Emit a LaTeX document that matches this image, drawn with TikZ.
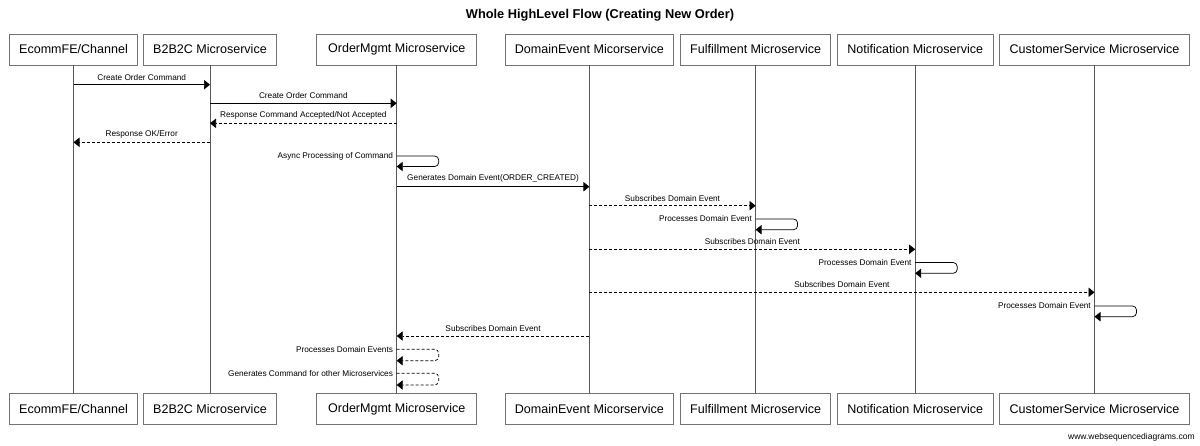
\documentclass[tikz,border=0pt]{standalone}
\usepackage{fontspec}
\setmainfont{Liberation Sans}
\usetikzlibrary{arrows.meta,calc}

\tikzset{
  actor/.style={draw=black!55, line width=0.6pt, minimum height=23.25pt, inner sep=0pt, font=\fontsize{9.4}{11}\selectfont},
  lifeline/.style={draw=black!65, line width=0.6pt},
  msg/.style={-{Triangle[length=4.5pt,width=7pt]}, line width=0.55pt},
  reply/.style={msg, dash pattern=on 2.25pt off 1.5pt},
  lbl/.style={font=\fontsize{6.2}{7}\selectfont, inner sep=0pt, above=3pt},
  selflbl/.style={font=\fontsize{6.2}{7}\selectfont, inner sep=0pt, anchor=east, xshift=-2.5pt},
  loopback/.style={rounded corners=3pt}
}

\begin{document}
\begin{tikzpicture}[x=0.75pt,y=-0.75pt]
\useasboundingbox (0,0) rectangle (1200,446);
\node[font=\bfseries\fontsize{9.6}{11}\selectfont] (title) at (600,15) {Whole HighLevel Flow (Creating New Order)};
% participants, top row
\node[actor, minimum width=96pt] (fe-top) at (73.5,49.5) {EcommFE/Channel};
\node[actor, minimum width=99.75pt] (b2c-top) at (210,49.5) {B2B2C Microservice};
\node[actor, minimum width=120pt] (om-top) at (396.7,49.5) {OrderMgmt Microservice};
\node[actor, minimum width=126pt] (de-top) at (589.4,49.5) {DomainEvent Micorservice};
\node[actor, minimum width=112.5pt] (ff-top) at (755.6,49.5) {Fulfillment Microservice};
\node[actor, minimum width=117pt] (nt-top) at (915.2,49.5) {Notification Microservice};
\node[actor, minimum width=142.5pt] (cs-top) at (1094.5,49.5) {CustomerService Microservice};
% participants, bottom row
\node[actor, minimum width=96pt] (fe-bot) at (73.5,409) {EcommFE/Channel};
\node[actor, minimum width=99.75pt] (b2c-bot) at (210,409) {B2B2C Microservice};
\node[actor, minimum width=120pt] (om-bot) at (396.7,409) {OrderMgmt Microservice};
\node[actor, minimum width=126pt] (de-bot) at (589.4,409) {DomainEvent Micorservice};
\node[actor, minimum width=112.5pt] (ff-bot) at (755.6,409) {Fulfillment Microservice};
\node[actor, minimum width=117pt] (nt-bot) at (915.2,409) {Notification Microservice};
\node[actor, minimum width=142.5pt] (cs-bot) at (1094.5,409) {CustomerService Microservice};
\node[font=\fontsize{6.4}{7}\selectfont, anchor=east, inner sep=0pt] (site) at (1195,437) {www.websequencediagrams.com};
% lifelines
\draw[lifeline] (fe-top) -- (fe-bot);
\draw[lifeline] (b2c-top) -- (b2c-bot);
\draw[lifeline] (om-top) -- (om-bot);
\draw[lifeline] (de-top) -- (de-bot);
\draw[lifeline] (ff-top) -- (ff-bot);
\draw[lifeline] (nt-top) -- (nt-bot);
\draw[lifeline] (cs-top) -- (cs-bot);
% messages
\draw[msg] (fe-top |- 0,84.7) -- node[lbl] {Create Order Command} (b2c-top |- 0,84.7);
\draw[msg] (b2c-top |- 0,103.3) -- node[lbl] {Create Order Command} (om-top |- 0,103.3);
\draw[reply] (om-top |- 0,123.3) -- node[lbl] {Response Command Accepted/Not Accepted} (b2c-top |- 0,123.3);
\draw[reply] (b2c-top |- 0,142.3) -- node[lbl] {Response OK/Error} (fe-top |- 0,142.3);
\draw[msg,loopback] (om-top |- 0,156) node[selflbl] {Async Processing of Command} -- ++(42,0) -- ++(0,10.5) -- (om-top |- 0,166.5);
\draw[msg] (om-top |- 0,186.7) -- node[lbl] {Generates Domain Event(ORDER\_CREATED)} (de-top |- 0,186.7);
\draw[reply] (de-top |- 0,205.7) -- node[lbl] {Subscribes Domain Event} (ff-top |- 0,205.7);
\draw[msg,loopback] (ff-top |- 0,219) node[selflbl] {Processes Domain Event} -- ++(42,0) -- ++(0,10.7) -- (ff-top |- 0,229.7);
\draw[reply] (de-top |- 0,249.3) -- node[lbl] {Subscribes Domain Event} (nt-top |- 0,249.3);
\draw[msg,loopback] (nt-top |- 0,262.5) node[selflbl] {Processes Domain Event} -- ++(42,0) -- ++(0,10.8) -- (nt-top |- 0,273.3);
\draw[reply] (de-top |- 0,292.3) -- node[lbl] {Subscribes Domain Event} (cs-top |- 0,292.3);
\draw[msg,loopback] (cs-top |- 0,306) node[selflbl] {Processes Domain Event} -- ++(42,0) -- ++(0,10.7) -- (cs-top |- 0,316.7);
\draw[reply] (de-top |- 0,336) -- node[lbl] {Subscribes Domain Event} (om-top |- 0,336);
\draw[reply,loopback] (om-top |- 0,349.3) node[selflbl] {Processes Domain Events} -- ++(42,0) -- ++(0,11.4) -- (om-top |- 0,360.7);
\draw[reply,loopback] (om-top |- 0,373.3) node[selflbl] {Generates Command for other Microservices} -- ++(42,0) -- ++(0,11.7) -- (om-top |- 0,385);
\end{tikzpicture}
\end{document}
